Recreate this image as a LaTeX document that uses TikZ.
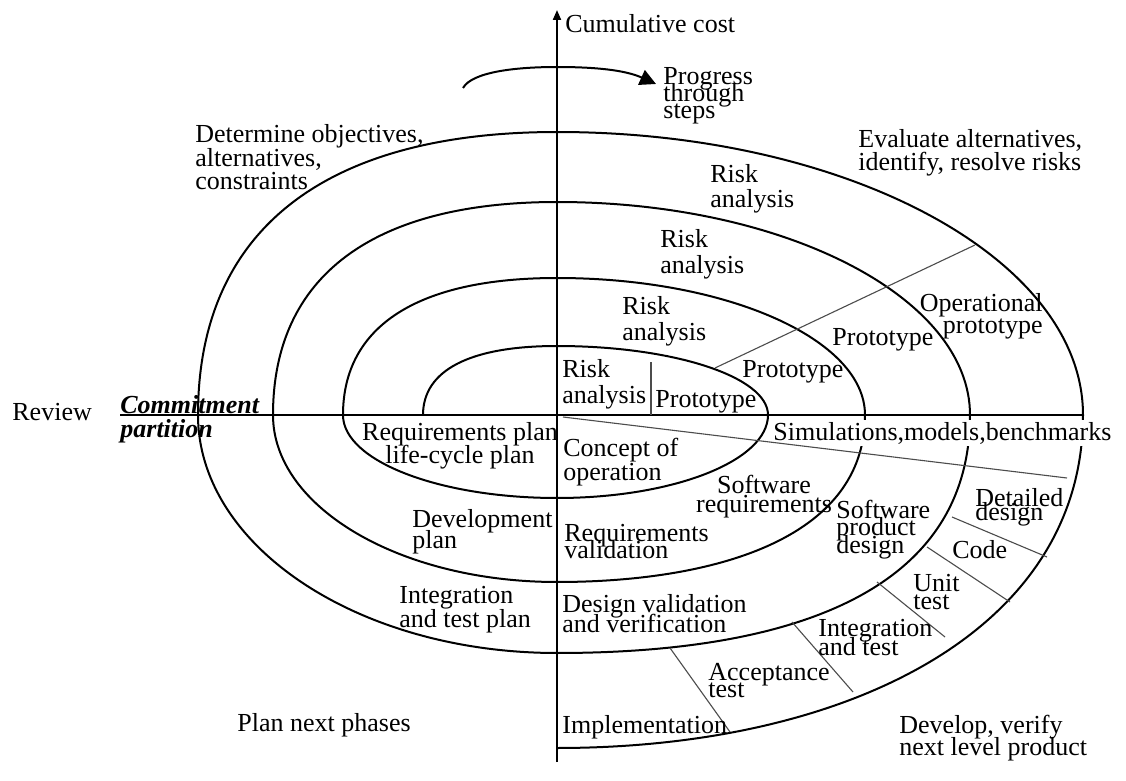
\documentclass[tikz,border=0pt]{standalone}
\usepackage{fontspec}
\setmainfont{Liberation Serif}
\usetikzlibrary{arrows.meta}
\newcommand\tightlines{\lineskiplimit=-\maxdimen\relax}
\newcommand\lblfont[1]{\fontsize{13}{#1}\selectfont\tightlines}
\begin{document}
\begin{tikzpicture}[x=0.5pt,y=-0.5pt,
  curve/.style={line width=1pt, line join=round},
  axisline/.style={line width=1pt},
  sep/.style={line width=0.55pt, black!70},
  lbl/.style={inner sep=0pt, font={\lblfont{#1}}, align=left, anchor=base west},
  lbl/.default=11.5,
]
\useasboundingbox (0,0) rectangle (1126,781);
\fill[white] (0,0) rectangle (1126,781);

% spiral
\draw[curve] (423,415) .. controls (423,370.2) and (469.9,346) .. (557,346)
 .. controls (673.5,346) and (768,376.9) .. (768,415)
 .. controls (768,460.8) and (673.5,498) .. (557,498)
 .. controls (438.8,498) and (343,460.8) .. (343,415)
 .. controls (343,326) and (417.9,278) .. (557,278)
 .. controls (727.1,278) and (865,339.3) .. (865,415)
 .. controls (865,540.3) and (711,582) .. (557,582)
 .. controls (400.1,582) and (273,507.2) .. (273,415)
 .. controls (273,276.5) and (372.4,202) .. (557,202)
 .. controls (785.1,202) and (970,297.4) .. (970,415)
 .. controls (970,605.4) and (763.5,653) .. (557,653)
 .. controls (358.7,653) and (198,546.4) .. (198,415)
 .. controls (198,231) and (323.6,132) .. (557,132)
 .. controls (847.5,132) and (1083,258.7) .. (1083,415)
 .. controls (1083,631.5) and (846.3,748) .. (557,748);

% axes
\coordinate (vb) at (557,762);
\coordinate (vt) at (557,10);
\coordinate (hl) at (120,415);
\coordinate (hr) at (1083,415);
\draw[axisline,-{Triangle[length=5pt,width=4pt]}] (vb) -- (vt);
\draw[axisline] (hl) -- (hr);

% progress arrow
\coordinate (pa) at (463,88);
\coordinate (pb) at (656,84);
\draw[line width=1pt,-{Triangle[length=8pt,width=8pt]}] (pa) .. controls (472,72) and (515,67) .. (557,67)
  .. controls (595,67) and (625,70) .. (pb);

% simulations label (breaks the arcs)
\node[lbl, fill=white, inner sep=1pt] (smb) at (771,440) {Simulations,models,benchmarks};

% separator lines
\coordinate (s1a) at (715,368); \coordinate (s1b) at (975,245);
\coordinate (s2a) at (651,362); \coordinate (s2b) at (651,415);
\coordinate (s3a) at (563,417); \coordinate (s3b) at (1067,478);
\coordinate (s4a) at (952,517); \coordinate (s4b) at (1047,557);
\coordinate (s5a) at (927,547); \coordinate (s5b) at (1010,602);
\coordinate (s6a) at (877,582); \coordinate (s6b) at (945,637);
\coordinate (s7a) at (792,622); \coordinate (s7b) at (853,692);
\coordinate (s8a) at (670,648); \coordinate (s8b) at (730,732);
\draw[sep] (s1a) -- (s1b);
\draw[sep] (s2a) -- (s2b);
\draw[sep] (s3a) -- (s3b);
\draw[sep] (s4a) -- (s4b);
\draw[sep] (s5a) -- (s5b);
\draw[sep] (s6a) -- (s6b);
\draw[sep] (s7a) -- (s7b);
\draw[sep] (s8a) -- (s8b);

% labels (multi-line nodes: base = baseline of last line)
\node[lbl] (cost) at (565,33) {Cumulative cost};
\node[lbl=8.5] (prog) at (663,119) {Progress\\through\\steps};
\node[lbl=11.75] (det) at (195,190) {Determine objectives,\\alternatives,\\constraints};
\node[lbl=11.5] (eval) at (858,170) {Evaluate alternatives,\\identify, resolve risks};
\node[lbl=13] (ra4) at (710,208) {Risk\\analysis};
\node[lbl=13] (ra3) at (660,273) {Risk\\analysis};
\node[lbl=13] (ra2) at (622,340) {Risk\\analysis};
\node[lbl=13] (ra1) at (562,403) {Risk\\analysis};
\node[lbl] (pt1) at (655,408) {Prototype};
\node[lbl] (pt2) at (742,378) {Prototype};
\node[lbl] (pt3) at (832,345) {Prototype};
\node[lbl=11, align=right, anchor=base east] (opt) at (1043,334) {Operational\\prototype};
\node[lbl] (rev) at (12,420) {Review};
\node[lbl=12, font={\lblfont{12}\bfseries\itshape}] (cp) at (120,437) {Commitment\\partition};
\node[lbl=11.5, align=center, anchor=base] (rp) at (460,463) {Requirements plan\\life-cycle plan};
\node[lbl=12] (co) at (563,480) {Concept of\\operation};
\node[lbl=9.5, align=center, anchor=base] (sr) at (764,512) {Software\\requirements};
\node[lbl=10.5] (dp) at (412,548) {Development\\plan};
\node[lbl=8.5] (rv) at (564,558) {Requirements\\validation};
\node[lbl=8.75] (spd) at (836,553) {Software\\product\\design};
\node[lbl=7] (dd) at (975,520) {Detailed\\design};
\node[lbl] (code) at (952,558) {Code};
\node[lbl=9] (ut) at (913,609) {Unit\\test};
\node[lbl=12] (itp) at (399,627) {Integration\\and test plan};
\node[lbl=10] (dvv) at (562,632) {Design validation\\and verification};
\node[lbl=9.5] (it) at (818,655) {Integration\\and test};
\node[lbl=8.5] (at) at (708,697) {Acceptance\\test};
\node[lbl] (pnp) at (237,731) {Plan next phases};
\node[lbl] (impl) at (562,733) {Implementation};
\node[lbl=11] (dev) at (899,755) {Develop, verify\\next level product};
\end{tikzpicture}
\end{document}
